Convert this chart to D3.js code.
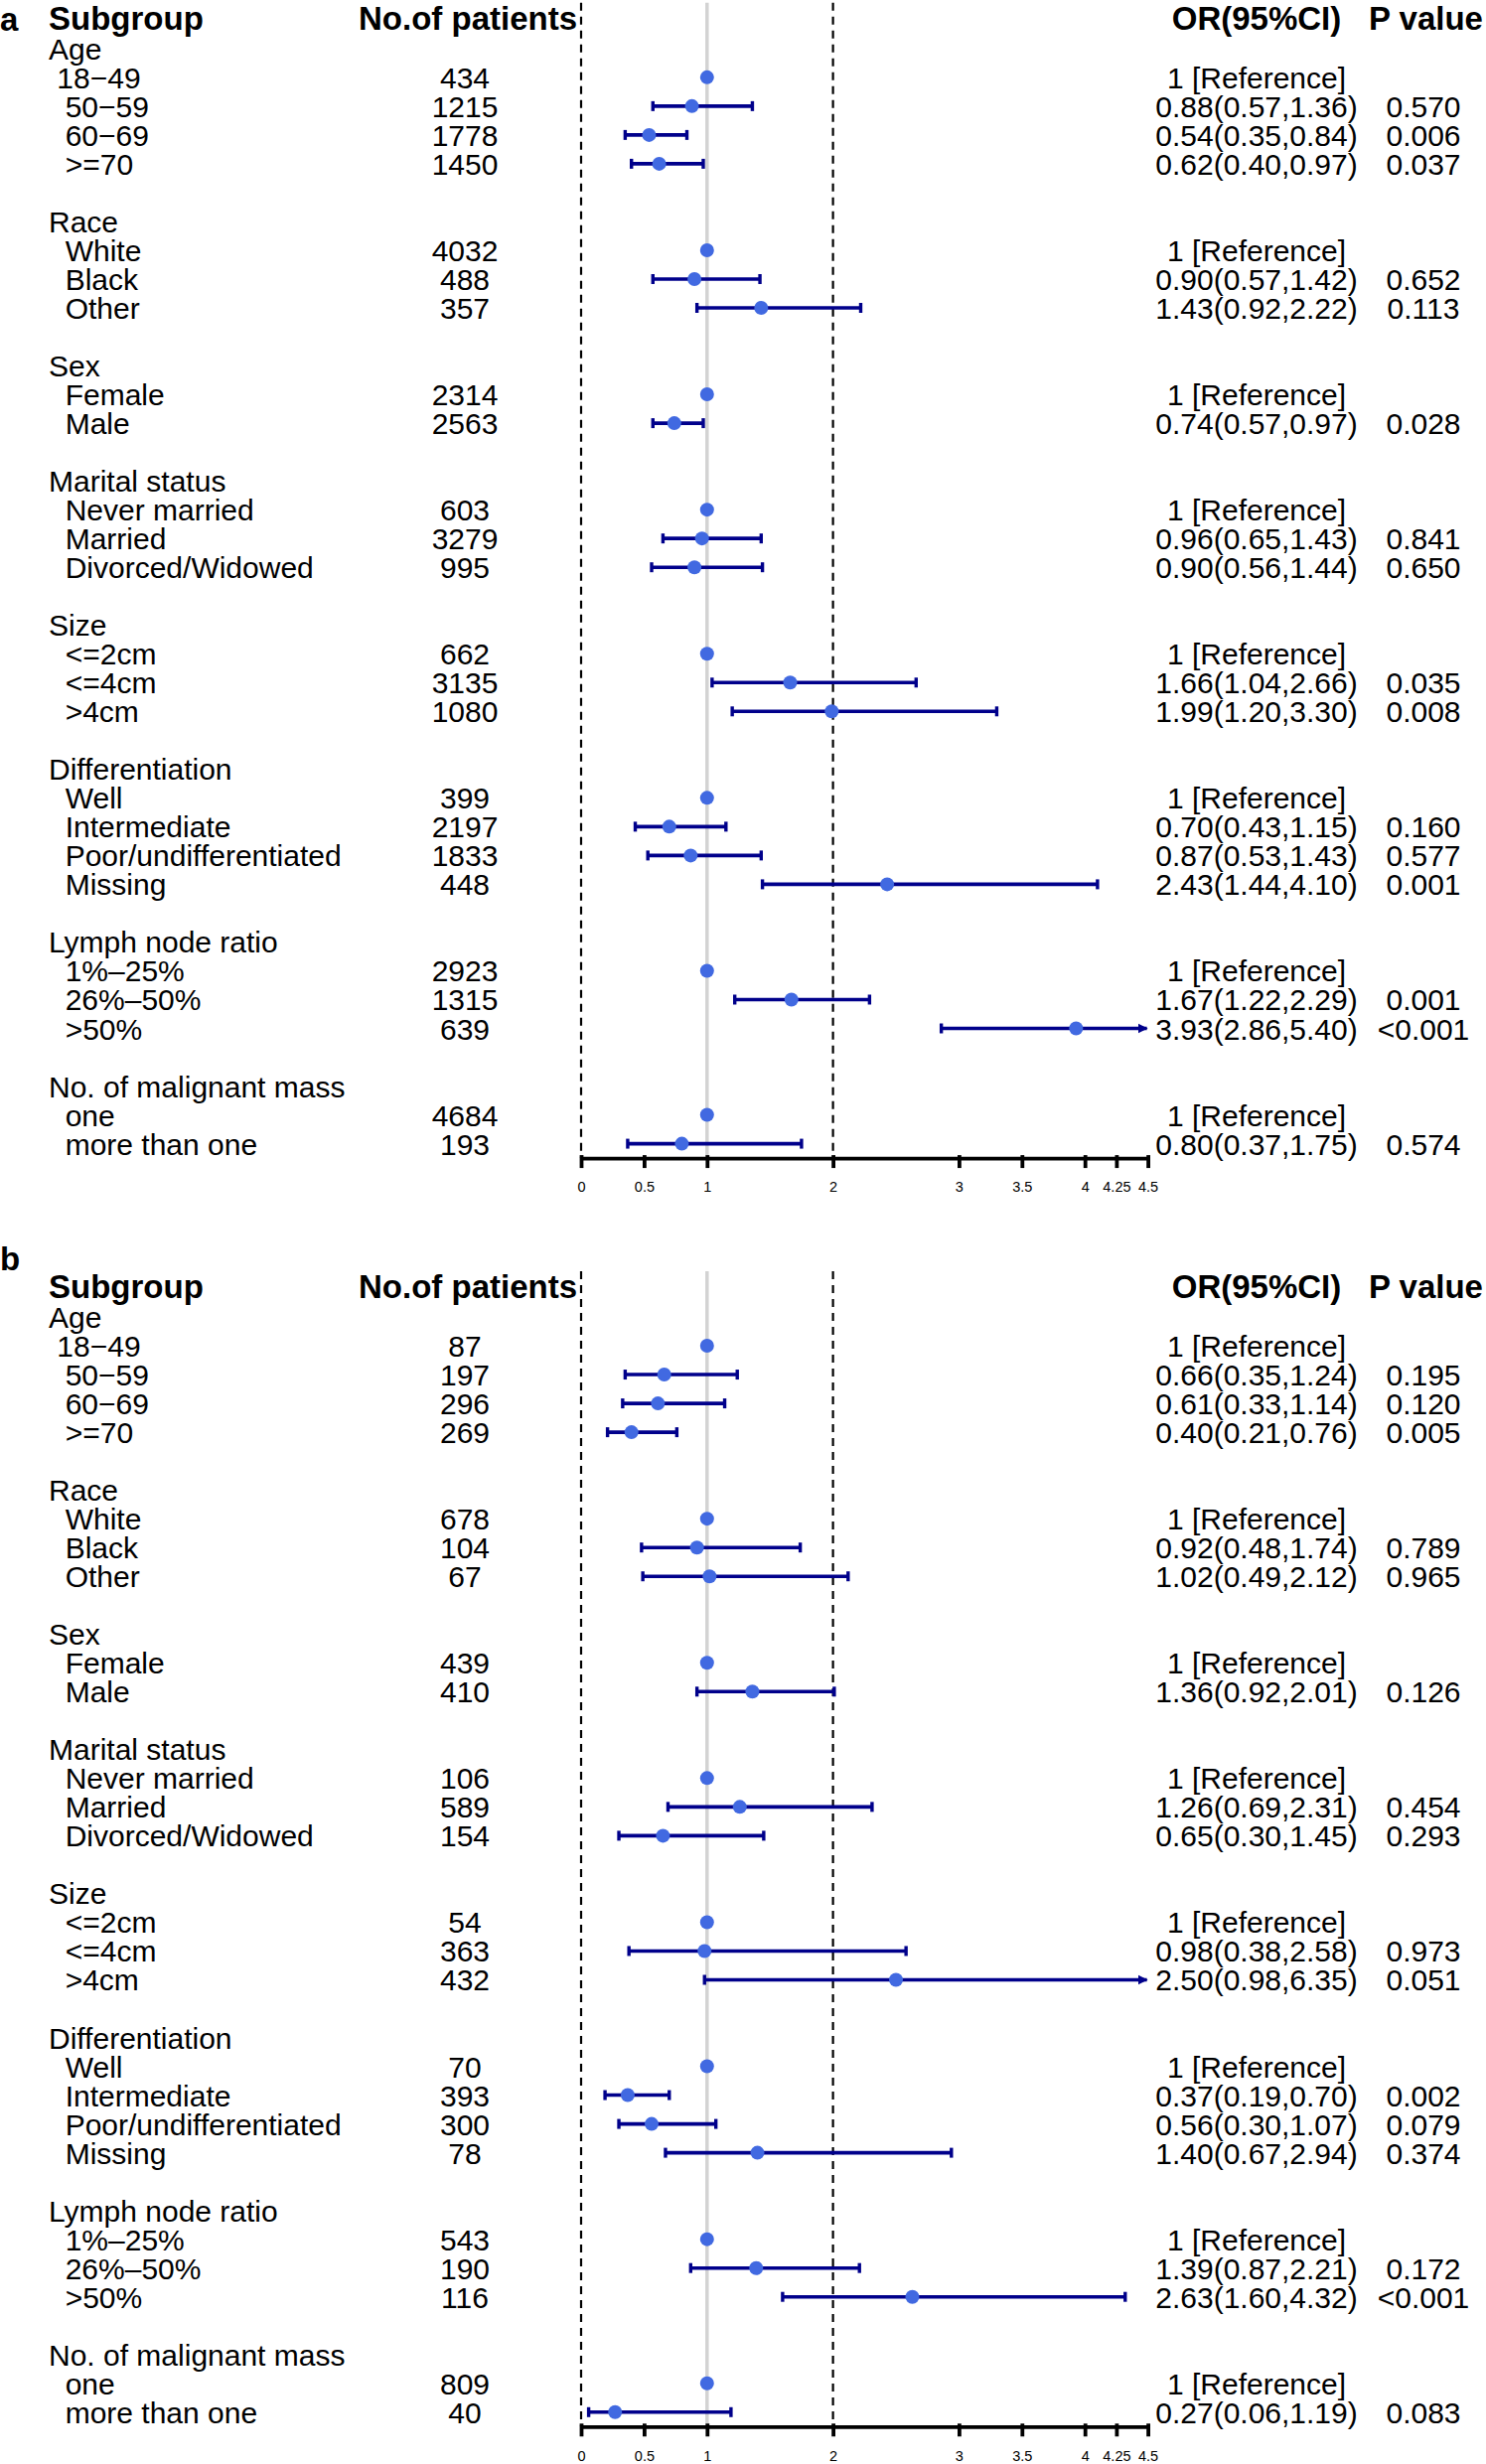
<!DOCTYPE html>
<html>
<head>
<meta charset="utf-8">
<script src="https://cdn.jsdelivr.net/npm/d3@7"></script>
<style>
  html, body { margin: 0; padding: 0; background: #fff; }
  svg { display: block; }
  text { font-family: "Liberation Sans", Arial, Helvetica, sans-serif; fill: #000; }
  .pre { white-space: pre; }
</style>
</head>
<body>
<svg id="chart" width="1496" height="2481"></svg>
<script>
// ---------------- data ----------------
const panelLetters = ["a", "b"];
const headers = ["Subgroup", "No.of patients", "OR(95%CI)", "P value"];
const groupNames = ["Age", "Race", "Sex", "Marital status", "Size", "Differentiation", "Lymph node ratio", "No. of malignant mass"];
const levelLabels = [
  [" 18−49", "  50−59", "  60−69", "  >=70"],
  ["  White", "  Black", "  Other"],
  ["  Female", "  Male"],
  ["  Never married", "  Married", "  Divorced/Widowed"],
  ["  <=2cm", "  <=4cm", "  >4cm"],
  ["  Well", "  Intermediate", "  Poor/undifferentiated", "  Missing"],
  ["  1%–25%", "  26%–50%", "  >50%"],
  ["  one", "  more than one"]
];
const tickValues = [0, 0.5, 1, 2, 3, 3.5, 4, 4.25, 4.5];

// panel a
const patientsA = [434, 1215, 1778, 1450, 4032, 488, 357, 2314, 2563, 603, 3279, 995, 662, 3135, 1080, 399, 2197, 1833, 448, 2923, 1315, 639, 4684, 193];
const orA   = [1, 0.88, 0.54, 0.62, 1, 0.90, 1.43, 1, 0.74, 1, 0.96, 0.90, 1, 1.66, 1.99, 1, 0.70, 0.87, 2.43, 1, 1.67, 3.93, 1, 0.80];
const lowA  = [null, 0.57, 0.35, 0.40, null, 0.57, 0.92, null, 0.57, null, 0.65, 0.56, null, 1.04, 1.20, null, 0.43, 0.53, 1.44, null, 1.22, 2.86, null, 0.37];
const highA = [null, 1.36, 0.84, 0.97, null, 1.42, 2.22, null, 0.97, null, 1.43, 1.44, null, 2.66, 3.30, null, 1.15, 1.43, 4.10, null, 2.29, 5.40, null, 1.75];
const pA    = ["", "0.570", "0.006", "0.037", "", "0.652", "0.113", "", "0.028", "", "0.841", "0.650", "", "0.035", "0.008", "", "0.160", "0.577", "0.001", "", "0.001", "<0.001", "", "0.574"];

// panel b
const patientsB = [87, 197, 296, 269, 678, 104, 67, 439, 410, 106, 589, 154, 54, 363, 432, 70, 393, 300, 78, 543, 190, 116, 809, 40];
const orB   = [1, 0.66, 0.61, 0.40, 1, 0.92, 1.02, 1, 1.36, 1, 1.26, 0.65, 1, 0.98, 2.50, 1, 0.37, 0.56, 1.40, 1, 1.39, 2.63, 1, 0.27];
const lowB  = [null, 0.35, 0.33, 0.21, null, 0.48, 0.49, null, 0.92, null, 0.69, 0.30, null, 0.38, 0.98, null, 0.19, 0.30, 0.67, null, 0.87, 1.60, null, 0.06];
const highB = [null, 1.24, 1.14, 0.76, null, 1.74, 2.12, null, 2.01, null, 2.31, 1.45, null, 2.58, 6.35, null, 0.70, 1.07, 2.94, null, 2.21, 4.32, null, 1.19];
const pB    = ["", "0.195", "0.120", "0.005", "", "0.789", "0.965", "", "0.126", "", "0.454", "0.293", "", "0.973", "0.051", "", "0.002", "0.079", "0.374", "", "0.172", "<0.001", "", "0.083"];

// ---------------- layout ----------------
const svg = d3.select("#chart");
const ROW = 29.02;
const FS = 30, FSH = 33;
const X = {
  letter: 0, label: 49, nCenter: 468, nHead: 361,
  orCenter: 1265, orHead: 1265, pCenter: 1433, pHead: 1378
};
const x = d3.scaleLinear().domain([0, 4.5]).range([585, 1155.6]);
const NAVY = "#00008B", BLUE = "#4169E1";

const defs = svg.append("defs");
defs.append("marker")
  .attr("id", "arrow").attr("viewBox", "0 0 10 10")
  .attr("refX", 9).attr("refY", 5)
  .attr("markerWidth", 2.8).attr("markerHeight", 2.8)
  .attr("markerUnits", "strokeWidth")
  .attr("orient", "auto")
  .append("path").attr("d", "M0,0 L10,5 L0,10 Z").attr("fill", NAVY);

function buildRows(patients, or, low, high, p) {
  const rows = [];
  let k = 1, idx = 0;
  groupNames.forEach((g, gi) => {
    rows.push({ k: k++, type: "group", label: g });
    levelLabels[gi].forEach(lab => {
      rows.push({ k: k++, type: "level", label: lab, n: patients[idx], or: or[idx], lo: low[idx], hi: high[idx], p: p[idx] });
      idx++;
    });
    k++; // blank row
  });
  return rows;
}

function drawPanel(letter, y0, letterOwnLine, data) {
  const g = svg.append("g");
  const rowY = k => y0 + k * ROW;
  const rows = buildRows(...data);
  const lastK = d3.max(rows, r => r.k);
  const axisY = rowY(lastK) + 14.5;
  const topY = y0 - 17;

  // letter
  g.append("text")
    .attr("x", X.letter)
    .attr("y", letterOwnLine ? y0 - 18 : y0 + 11)
    .attr("font-size", 33).attr("font-weight", "bold")
    .text(letter);

  // reference lines
  g.append("line")
    .attr("x1", x(1)).attr("x2", x(1)).attr("y1", topY).attr("y2", axisY)
    .attr("stroke", "#d3d3d3").attr("stroke-width", 3.5);
  [0, 2].forEach(v => {
    g.append("line")
      .attr("x1", x(v)).attr("x2", x(v)).attr("y1", topY).attr("y2", axisY)
      .attr("stroke", "#000").attr("stroke-width", 2.2)
      .attr("stroke-dasharray", "8,6");
  });

  // headers
  const hy = y0 + 10.2;
  g.append("text").attr("x", X.label).attr("y", hy).attr("font-size", FSH).attr("font-weight", "bold").text(headers[0]);
  g.append("text").attr("x", X.nHead).attr("y", hy).attr("font-size", FSH).attr("font-weight", "bold").text(headers[1]);
  g.append("text").attr("x", X.orHead).attr("y", hy).attr("font-size", FSH).attr("font-weight", "bold").attr("text-anchor", "middle").text(headers[2]);
  g.append("text").attr("x", X.pHead).attr("y", hy).attr("font-size", FSH).attr("font-weight", "bold").text(headers[3]);

  // label column
  g.selectAll("text.lab").data(rows).enter().append("text")
    .attr("class", "lab pre")
    .attr("x", X.label).attr("y", r => rowY(r.k) + 11)
    .attr("font-size", FS)
    .text(r => r.label);

  const lv = rows.filter(r => r.type === "level");

  // numbers
  g.selectAll("text.num").data(lv).enter().append("text")
    .attr("x", X.nCenter).attr("y", r => rowY(r.k) + 11)
    .attr("font-size", FS).attr("text-anchor", "middle")
    .text(r => r.n);

  // OR text
  g.selectAll("text.or").data(lv).enter().append("text")
    .attr("x", X.orCenter).attr("y", r => rowY(r.k) + 11)
    .attr("font-size", FS).attr("text-anchor", "middle")
    .text(r => r.lo == null ? "1 [Reference]" :
      `${r.or.toFixed(2)}(${r.lo.toFixed(2)},${r.hi.toFixed(2)})`);

  // P text
  g.selectAll("text.p").data(lv.filter(r => r.p)).enter().append("text")
    .attr("x", X.pCenter).attr("y", r => rowY(r.k) + 11)
    .attr("font-size", FS).attr("text-anchor", "middle")
    .text(r => r.p);

  // CI lines
  const ci = lv.filter(r => r.lo != null);
  const xmax = x.domain()[1];
  ci.forEach(r => {
    const yy = rowY(r.k);
    const clipped = r.hi > xmax;
    const x1 = x(r.lo), x2 = x(Math.min(r.hi, xmax));
    g.append("line")
      .attr("x1", x1).attr("x2", clipped ? x2 - 1 : x2).attr("y1", yy).attr("y2", yy)
      .attr("stroke", NAVY).attr("stroke-width", 3.6)
      .attr("marker-end", clipped ? "url(#arrow)" : null);
    g.append("line")
      .attr("x1", x1).attr("x2", x1).attr("y1", yy - 5).attr("y2", yy + 5)
      .attr("stroke", NAVY).attr("stroke-width", 3.4);
    if (!clipped) {
      g.append("line")
        .attr("x1", x2).attr("x2", x2).attr("y1", yy - 5).attr("y2", yy + 5)
        .attr("stroke", NAVY).attr("stroke-width", 3.4);
    }
  });

  // points
  g.selectAll("circle.pt").data(lv).enter().append("circle")
    .attr("cx", r => x(r.or)).attr("cy", r => rowY(r.k))
    .attr("r", 7).attr("fill", BLUE);

  // axis
  const axis = d3.axisBottom(x).tickValues(tickValues)
    .tickFormat(d => String(d)).tickSize(10).tickSizeOuter(0).tickPadding(14);
  const ag = g.append("g").attr("transform", `translate(0,${axisY})`).call(axis);
  ag.select(".domain").attr("stroke", "#000").attr("stroke-width", 3.8);
  ag.selectAll(".tick line").attr("stroke", "#000").attr("stroke-width", 3.8).attr("y1", -3);
  ag.selectAll(".tick text").attr("font-size", 14.5)
    .attr("font-family", "'Liberation Sans', Arial, sans-serif").attr("fill", "#000");
}

drawPanel(panelLetters[0], 19.8, false, [patientsA, orA, lowA, highA, pA]);
drawPanel(panelLetters[1], 1297, true, [patientsB, orB, lowB, highB, pB]);
</script>
</body>
</html>
